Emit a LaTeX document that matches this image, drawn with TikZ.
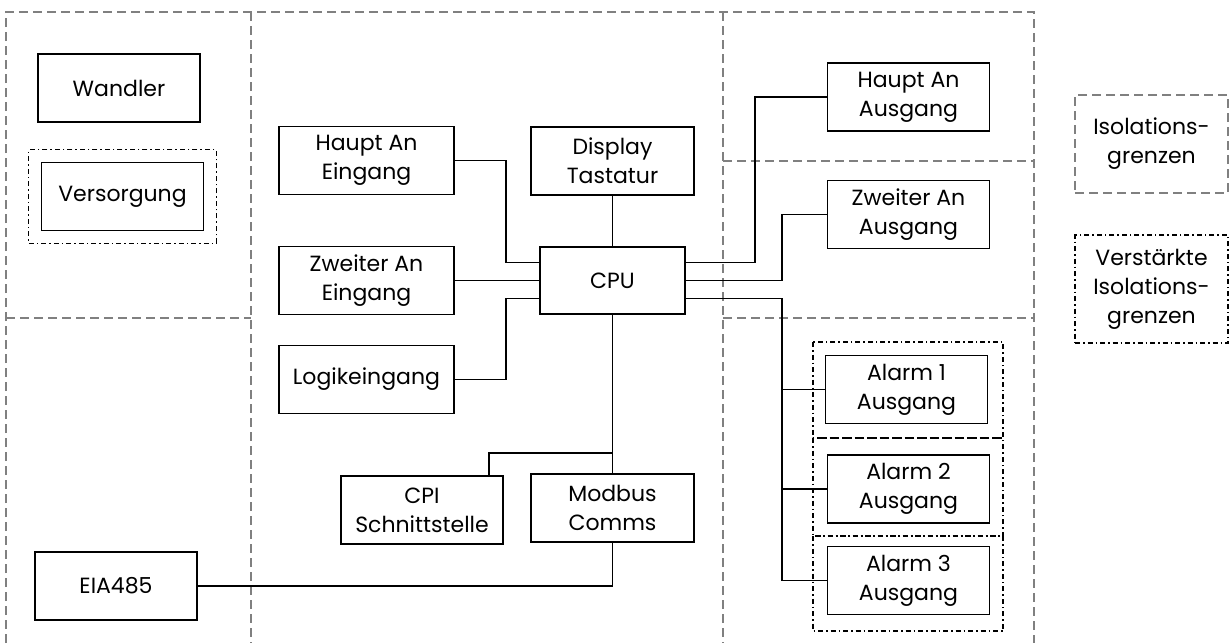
\documentclass[tikz,border=0pt]{standalone}
\usepackage{fontspec}
\setmainfont{Poppins}
\usetikzlibrary{fit}
\definecolor{isolgray}{RGB}{128,128,128}

\begin{document}
\begin{tikzpicture}[x=1pt,y=-1pt,
  blk/.style={draw=black,line width=1.5pt,minimum width=162pt,minimum height=68pt,
    inner sep=0pt,align=center,font=\fontsize{22}{29}\selectfont},
  isol/.style={draw=isolgray,line width=1.5pt,dash pattern=on 9pt off 5pt},
  verst/.style={draw=black,line width=1.2pt,dash pattern=on 5pt off 3pt on 1.5pt off 3pt},
  wire/.style={line width=1.6pt}]
\useasboundingbox (0,0) rectangle (1229,643);
% isolation regions
\draw [isol] (6,643) -- (6,12) -- (1034,12) -- (1034,643);
\draw [isol] (251,12) -- (251,643);
\draw [isol] (723,12) -- (723,643);
\draw [isol] (6,318) -- (251,318);
\draw [isol] (723,161) -- (1034,161);
\draw [isol] (723,318) -- (1034,318);
% left column
\node [blk] (wandler) at (119,88) {Wandler};
\node [blk] (vers) at (122.5,196.5) {Versorgung};
\node [verst,fit=(vers),inner sep=12pt] (versiso) {};
\node [blk] (eia) at (116,586) {EIA485};
% inputs
\node [blk,minimum width=175pt] (hin) at (366.5,160.5) {Haupt An\\Eingang};
\node [blk,minimum width=175pt] (zin) at (366.5,280.5) {Zweiter An\\Eingang};
\node [blk,minimum width=175pt] (logik) at (366.5,379.5) {Logikeingang};
% centre
\node [blk,minimum width=163pt] (disp) at (612.5,161) {Display\\Tastatur};
\node [blk,minimum width=145pt,minimum height=67pt] (cpu) at (612.5,280.5) {CPU};
\node [blk] (cpi) at (422,510) {CPI\\Schnittstelle};
\node [blk,minimum width=163pt] (modbus) at (612.5,508) {Modbus\\Comms};
% outputs
\node [blk] (haus) at (908.5,97) {Haupt An\\Ausgang};
\node [blk] (zaus) at (908.5,214.5) {Zweiter An\\Ausgang};
\node [blk] (al1) at (906.5,389.5) {Alarm 1\\Ausgang};
\node [blk] (al2) at (908.5,489) {Alarm 2\\Ausgang};
\node [blk] (al3) at (908.5,580.5) {Alarm 3\\Ausgang};
\draw [verst] (813,342) rectangle (1003,438);
\draw [verst] (813,438) rectangle (1003,536);
\draw [verst] (813,536) rectangle (1003,631);
% legend
\node [blk,isol,minimum width=153pt,minimum height=98pt] (leg1) at (1151.5,144) {Isolations-\\grenzen};
\node [blk,verst,minimum width=153pt,minimum height=108pt] (leg2) at (1151.5,289) {Verstärkte\\Isolations-\\grenzen};
% connections
\draw [wire] (hin.east) -| ([xshift=-33pt,yshift=18pt]cpu.west) -- ([yshift=18pt]cpu.west);
\draw [wire] (zin.east) -- (cpu.west);
\draw [wire] (logik.east) -| ([xshift=-33pt,yshift=-18pt]cpu.west) -- ([yshift=-18pt]cpu.west);
\draw [wire] (disp.south) -- (cpu.north);
\draw [wire] ([yshift=18pt]cpu.east) -- ++(69,0) |- (haus.west);
\draw [wire] (cpu.east) -- ++(96,0) |- (zaus.west);
\coordinate (abus) at ([xshift=96pt,yshift=-18pt]cpu.east);
\draw [wire] ([yshift=-18pt]cpu.east) -- (abus) |- (al3.west);
\draw [wire] (abus |- al1.west) -- (al1.west);
\draw [wire] (abus |- al2.west) -- (al2.west);
\draw [wire] (cpu.south) -- (modbus.north);
\draw [wire] ([xshift=67pt]cpi.north) |- ([yshift=20pt]modbus.north);
\draw [wire] (modbus.south) |- (eia.east);
\end{tikzpicture}
\end{document}
